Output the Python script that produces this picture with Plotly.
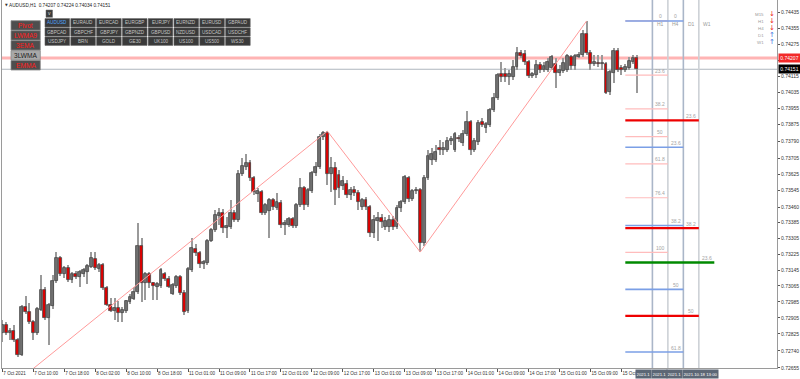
import plotly.graph_objects as go

# ---------------- data (AUDUSD H1) ----------------
bars = list(range(165))
open_ = [0.72829,0.72869,0.72829,0.72839,0.72794,0.72719,0.72959,0.72934,0.72884,0.72829,
0.72944,0.73045,0.72904,0.72964,0.73090,0.73205,0.73125,0.73155,0.73095,0.73125,
0.73110,0.73125,0.73135,0.73160,0.73200,0.73150,0.73170,0.73055,0.72969,0.72939,
0.72954,0.72929,0.72939,0.72984,0.72999,0.73034,0.73265,0.73080,0.73125,0.73080,
0.73060,0.73065,0.73125,0.73100,0.73024,0.73065,0.73110,0.73029,0.72939,0.73145,
0.73250,0.73230,0.73175,0.73180,0.73290,0.73345,0.73415,0.73430,0.73355,0.73360,
0.73430,0.73395,0.73626,0.73661,0.73681,0.73606,0.73526,0.73536,0.73430,0.73440,
0.73496,0.73456,0.73481,0.73370,0.73370,0.73400,0.73365,0.73471,0.73556,0.73471,
0.73541,0.73631,0.73661,0.73811,0.73831,0.73626,0.73656,0.73621,0.73566,0.73576,
0.73521,0.73546,0.73531,0.73461,0.73496,0.73461,0.73330,0.73390,0.73405,0.73360,
0.73360,0.73395,0.73360,0.73456,0.73486,0.73606,0.73501,0.73541,0.73546,0.73280,
0.73606,0.73696,0.73696,0.73756,0.73746,0.73746,0.73791,0.73746,0.73806,0.73781,
0.73826,0.73887,0.73746,0.73786,0.73887,0.73856,0.73871,0.73947,0.74007,0.74127,
0.74127,0.74112,0.74112,0.74162,0.74232,0.74227,0.74187,0.74117,0.74122,0.74172,
0.74147,0.74147,0.74157,0.74177,0.74132,0.74142,0.74147,0.74212,0.74167,0.74212,
0.74222,0.74328,0.74232,0.74177,0.74182,0.74177,0.74177,0.74037,0.74132,0.74242,
0.74157,0.74147,0.74157,0.74187,0.74207]
high = [0.72894,0.72884,0.72854,0.72869,0.72804,0.72969,0.73014,0.72979,0.72894,0.72959,
0.73120,0.73060,0.72979,0.73120,0.73235,0.73215,0.73165,0.73170,0.73135,0.73140,
0.73145,0.73155,0.73175,0.73235,0.73235,0.73180,0.73180,0.73065,0.73004,0.73004,
0.72989,0.72959,0.72994,0.73024,0.73060,0.73380,0.73305,0.73135,0.73135,0.73085,
0.73085,0.73155,0.73135,0.73115,0.73080,0.73120,0.73120,0.73045,0.73160,0.73305,
0.73275,0.73240,0.73195,0.73300,0.73355,0.73445,0.73456,0.73450,0.73410,0.73496,
0.73445,0.73646,0.73706,0.73726,0.73696,0.73616,0.73556,0.73546,0.73481,0.73506,
0.73506,0.73531,0.73496,0.73395,0.73410,0.73410,0.73481,0.73606,0.73566,0.73556,
0.73641,0.73686,0.73826,0.73841,0.73841,0.73711,0.73686,0.73646,0.73616,0.73596,
0.73561,0.73566,0.73546,0.73506,0.73511,0.73471,0.73420,0.73435,0.73425,0.73410,
0.73420,0.73415,0.73471,0.73496,0.73621,0.73616,0.73551,0.73561,0.73556,0.73621,
0.73746,0.73756,0.73771,0.73796,0.73786,0.73811,0.73816,0.73836,0.73821,0.73846,
0.73942,0.73897,0.73806,0.73897,0.73907,0.73887,0.73957,0.74032,0.74132,0.74187,
0.74157,0.74147,0.74197,0.74262,0.74247,0.74247,0.74197,0.74137,0.74197,0.74187,
0.74187,0.74207,0.74222,0.74207,0.74172,0.74207,0.74227,0.74222,0.74227,0.74237,
0.74348,0.74393,0.74247,0.74222,0.74222,0.74222,0.74187,0.74147,0.74257,0.74257,
0.74172,0.74177,0.74212,0.74222,0.74224]
low = [0.72784,0.72819,0.72794,0.72784,0.72709,0.72714,0.72924,0.72874,0.72794,0.72819,
0.72939,0.72894,0.72769,0.72949,0.73080,0.73115,0.73105,0.73085,0.73080,0.73100,
0.73060,0.73110,0.73075,0.73155,0.73145,0.73135,0.73045,0.72964,0.72934,0.72894,
0.72884,0.72884,0.72929,0.72974,0.72994,0.73024,0.72984,0.72994,0.73055,0.72994,
0.72994,0.73055,0.73090,0.73055,0.73019,0.73055,0.73019,0.72919,0.72929,0.73135,
0.73215,0.73155,0.73150,0.73170,0.73285,0.73335,0.73370,0.73330,0.73305,0.73350,
0.73385,0.73385,0.73616,0.73646,0.73591,0.73521,0.73486,0.73420,0.73420,0.73305,
0.73445,0.73445,0.73355,0.73320,0.73360,0.73355,0.73355,0.73461,0.73445,0.73461,
0.73531,0.73616,0.73651,0.73796,0.73571,0.73536,0.73471,0.73506,0.73546,0.73506,
0.73496,0.73516,0.73445,0.73445,0.73445,0.73310,0.73305,0.73290,0.73355,0.73345,
0.73335,0.73345,0.73350,0.73435,0.73476,0.73486,0.73491,0.73526,0.73235,0.73265,
0.73596,0.73671,0.73686,0.73721,0.73721,0.73736,0.73771,0.73736,0.73786,0.73766,
0.73816,0.73721,0.73736,0.73771,0.73861,0.73831,0.73861,0.73937,0.73997,0.74087,
0.74087,0.74072,0.74097,0.74147,0.74207,0.74172,0.74107,0.74107,0.74107,0.74132,
0.74137,0.74137,0.74147,0.74057,0.74117,0.74132,0.74137,0.74147,0.74147,0.74207,
0.74212,0.74222,0.74147,0.74167,0.74162,0.74147,0.74027,0.74022,0.74082,0.74137,
0.74122,0.74137,0.74147,0.74177,0.74034]
close = [0.72869,0.72829,0.72839,0.72794,0.72719,0.72959,0.72934,0.72884,0.72829,0.72949,
0.73045,0.72904,0.72969,0.73090,0.73205,0.73125,0.73155,0.73095,0.73125,0.73110,
0.73135,0.73145,0.73165,0.73205,0.73155,0.73170,0.73055,0.72969,0.72939,0.72954,
0.72929,0.72944,0.72989,0.73009,0.73034,0.73265,0.73080,0.73125,0.73080,0.73065,
0.73075,0.73145,0.73100,0.73060,0.73070,0.73110,0.73029,0.72934,0.73150,0.73255,
0.73230,0.73175,0.73185,0.73290,0.73345,0.73420,0.73430,0.73355,0.73365,0.73430,
0.73395,0.73626,0.73666,0.73681,0.73606,0.73536,0.73541,0.73430,0.73471,0.73496,
0.73461,0.73486,0.73370,0.73380,0.73400,0.73365,0.73471,0.73556,0.73471,0.73546,
0.73631,0.73661,0.73811,0.73831,0.73626,0.73656,0.73546,0.73556,0.73591,0.73521,
0.73546,0.73531,0.73486,0.73496,0.73461,0.73330,0.73395,0.73405,0.73385,0.73390,
0.73395,0.73360,0.73456,0.73486,0.73611,0.73501,0.73541,0.73546,0.73280,0.73606,
0.73716,0.73726,0.73736,0.73746,0.73756,0.73791,0.73801,0.73826,0.73801,0.73826,
0.73887,0.73746,0.73791,0.73882,0.73871,0.73877,0.73947,0.74007,0.74122,0.74112,
0.74112,0.74127,0.74162,0.74232,0.74217,0.74187,0.74117,0.74127,0.74172,0.74147,
0.74167,0.74187,0.74212,0.74132,0.74147,0.74182,0.74217,0.74167,0.74217,0.74222,
0.74328,0.74232,0.74177,0.74187,0.74177,0.74182,0.74032,0.74137,0.74242,0.74147,
0.74147,0.74162,0.74192,0.74207,0.74151]

tick_bars = list(range(0, 161, 8))
tick_labels = ["7 Oct 2021", "7 Oct 10:00", "7 Oct 18:00", "8 Oct 02:00", "8 Oct 10:00",
               "8 Oct 18:00", "11 Oct 01:00", "11 Oct 09:00", "11 Oct 17:00", "12 Oct 01:00",
               "12 Oct 09:00", "12 Oct 17:00", "13 Oct 01:00", "13 Oct 09:00", "13 Oct 17:00",
               "14 Oct 01:00", "14 Oct 09:00", "14 Oct 17:00", "15 Oct 01:00", "15 Oct 09:00",
               "15 Oct 17:00"]
price_ticks = [0.74435, 0.74355, 0.74275, 0.74195, 0.74115, 0.74035, 0.73955, 0.73875,
               0.73790, 0.73705, 0.73625, 0.73545, 0.73460, 0.73385, 0.73305, 0.73225,
               0.73145, 0.73065, 0.72985, 0.72905, 0.72825, 0.72740, 0.72655]
price_tick_text = ["%.5f" % v for v in price_ticks]

zigzag_bars = [-12, 84, 108, 151]
zigzag_prices = [0.72338, 0.73841, 0.73235, 0.74393]

ask_price = 0.74207
bid_price = 0.74151

fib_start = 161
fib_groups = [  # (end bar, label column bar, color, width, levels, labels)
    (172, 170, "#ffbcbc", 1.2, [0.74393, 0.74122, 0.73952, 0.73813, 0.73677, 0.73507, 0.73233],
     ["0", "23.6", "38.2", "50", "61.8", "76.4", "100"]),
    (176, 174, "#7b9fe6", 1.6, [0.74393, 0.73760, 0.73368, 0.73048, 0.72734],
     ["0", "23.6", "38.2", "50", "61.8"]),
    (180, 178, "#ee0000", 2.4, [0.73895, 0.73355, 0.72915], ["23.6", "38.2", "50"]),
    (184, 182, "#008a00", 2.4, [0.73183], ["23.6"]),
]
tf_lines = [168, 172, 176, 180]
tf_line_colors = ["#aab6c8", "#cdd1d6", "#aab6c8", "#cdd1d6"]
tf_names = ["H1", "H4", "D1", "W1"]
tf_name_bars = [170, 174, 178, 182]
tf_line_time_labels = ["2021.1", "2021.1", "2021.1", "2021.10.18 13:00"]

symbol_rows = [["AUDUSD", "EURAUD", "EURCAD", "EURGBP", "EURJPY", "EURNZD", "EURUSD", "GBPAUD"],
               ["GBPCAD", "GBPCHF", "GBPJPY", "GBPNZD", "GBPUSD", "NZDUSD", "USDCAD", "USDCHF"],
               ["USDJPY", "BRN", "GOLD", "GE30", "UK100", "US100", "US500", "WS30"]]
left_buttons = ["Pivot", "LWMA9", "3EMA", "3LWMA", "EMMA"]
trend_tfs = ["M15", "H1", "H4", "D1", "W1"]
trend_up = [False, False, False, True, True]

# ---------------- figure ----------------
FONT = "Liberation Sans, Arial, sans-serif"
X0, XW, YH = 2.0, 775.0, 368.0
PX_PER_BAR = XW / (200.2 + 0.08)
def PX(x):
    return (x - X0) / XW
def PY(y):
    return (YH - y) / YH

def ann(**kw):
    d = dict(showarrow=False, xanchor="center", yanchor="middle")
    d.update(kw)
    return d

fig = go.Figure()

# wicks
fig.add_trace(go.Bar(x=bars, y=[h - l for h, l in zip(high, low)], base=low, width=0.27,
                     marker=dict(color="#9a9a9a", line=dict(width=0)), hoverinfo="skip",
                     showlegend=False))
# bodies
bull = [c > o for o, c in zip(open_, close)]
fig.add_trace(go.Bar(x=bars, y=[abs(c - o) for o, c in zip(open_, close)],
                     base=[min(o, c) for o, c in zip(open_, close)], width=0.74,
                     marker=dict(color=["#707070" if b else "#dd0000" for b in bull],
                                 line=dict(color="#484848", width=0.8)),
                     hoverinfo="skip", showlegend=False))
# zigzag
fig.add_trace(go.Scatter(x=zigzag_bars, y=zigzag_prices, mode="lines",
                         line=dict(color="#ff9a9a", width=1), hoverinfo="skip", showlegend=False))

shapes = []
annotations = []

# ask / bid lines
shapes.append(dict(type="line", xref="paper", yref="y", x0=0, x1=1, y0=ask_price, y1=ask_price,
                   line=dict(color="#ffb4b4", width=3), layer="below"))
shapes.append(dict(type="line", xref="paper", yref="y", x0=0, x1=1, y0=bid_price, y1=bid_price,
                   line=dict(color="#aeb6bf", width=1), layer="below"))

# timeframe vertical lines
for b, col in zip(tf_lines, tf_line_colors):
    shapes.append(dict(type="line", xref="x", yref="paper", x0=b, x1=b, y0=0, y1=1,
                       line=dict(color=col, width=1.6), layer="below"))
for name, b in zip(tf_names, tf_name_bars):
    annotations.append(ann(x=b, y=PY(24), xref="x", yref="paper", text=name,
                           font=dict(family=FONT, size=5, color="#9a9a9a")))

# fibonacci levels
for end, lab_bar, col, w, levels, labels in fib_groups:
    for lv, lb in zip(levels, labels):
        shapes.append(dict(type="line", xref="x", yref="y", x0=fib_start, x1=end, y0=lv, y1=lv,
                           line=dict(color=col, width=w), layer="above"))
        annotations.append(ann(x=lab_bar, y=lv, xref="x", yref="y", text=lb, yshift=4.5,
                               font=dict(family=FONT, size=5, color="#a4a4a4")))

# price boxes on the right
for price, bg in ((ask_price, "#f22a2a"), (bid_price, "#000000")):
    annotations.append(ann(x=PX(778), y=price, xref="paper", yref="y", xanchor="left",
                           text="%.5f" % price, bgcolor=bg, borderpad=1,
                           width=19, height=6, font=dict(family=FONT, size=5, color="white")))

# time boxes under vertical lines (each partially covered by the next)
for k, (b, txt) in enumerate(zip(tf_lines, tf_line_time_labels)):
    if k < len(tf_lines) - 1:
        w = (tf_lines[k + 1] - b) * PX_PER_BAR - 1
    else:
        w = 34
    annotations.append(ann(x=b, y=PY(373.7), xref="x", yref="paper", xanchor="left", xshift=-17,
                           text=txt, bgcolor="#5c6775", width=w, height=7, borderpad=0.5,
                           align="left" if k < len(tf_lines) - 1 else "center",
                           font=dict(family=FONT, size=4.3, color="white")))

# header
annotations.append(ann(x=PX(2.5), y=PY(5), xref="paper", yref="paper", xanchor="left",
                       text="▼", font=dict(family="DejaVu Sans", size=3.5, color="#333")))
annotations.append(ann(x=PX(7), y=PY(5), xref="paper", yref="paper", xanchor="left",
                       text="AUDUSD,H1  %.5f %.5f %.5f %.5f" % (open_[-1], high[-1], low[-1], close[-1]),
                       font=dict(family=FONT, size=4.7, color="#222")))

# "v" box
shapes.append(dict(type="rect", xref="paper", yref="paper", x0=PX(46), x1=PX(52.5), y0=PY(17.3), y1=PY(10),
                   fillcolor="#3c3c3c", line=dict(color="#666", width=0.5), layer="above"))
annotations.append(ann(x=PX(49.2), y=PY(13.4), xref="paper", yref="paper", text="v",
                       font=dict(family=FONT, size=5, color="#dddddd")))

# symbol grid
for r, row in enumerate(symbol_rows):
    for c, sym in enumerate(row):
        x0 = 45 + 25.8 * c
        y0 = 18.6 + 9.2 * r
        shapes.append(dict(type="rect", xref="paper", yref="paper", x0=PX(x0), x1=PX(x0 + 24.6),
                           y0=PY(y0 + 8.4), y1=PY(y0), fillcolor="#3a3a3a",
                           line=dict(color="#5e5e5e", width=0.6), layer="above"))
        annotations.append(ann(x=PX(x0 + 12.3), y=PY(y0 + 4.2), xref="paper", yref="paper", text=sym,
                               font=dict(family=FONT, size=4.6,
                                         color="#4fa6ff" if sym == "AUDUSD" else "#c4c4c4")))

# left indicator buttons
for k, name in enumerate(left_buttons):
    y0 = 20.7 + 9.95 * k
    light = name == "3LWMA"
    shapes.append(dict(type="rect", xref="paper", yref="paper", x0=PX(11), x1=PX(40.3),
                       y0=PY(y0 + 9.5), y1=PY(y0), fillcolor="#a8a8a8" if light else "#4e4e4e",
                       line=dict(color="#8c8c8c", width=0.8), layer="above"))
    annotations.append(ann(x=PX(25.6), y=PY(y0 + 4.8), xref="paper", yref="paper", text=name,
                           font=dict(family=FONT, size=6.6, color="#1c1c1c" if light else "#ff1c1c")))

# trend arrows top-right
for k, (tf, up) in enumerate(zip(trend_tfs, trend_up)):
    yy = 14.3 + 7.0 * k
    annotations.append(ann(x=PX(766), y=PY(yy), xref="paper", yref="paper", xanchor="right", text=tf,
                           font=dict(family=FONT, size=4.4, color="#9a9a9a")))
    annotations.append(ann(x=PX(771.5), y=PY(yy), xref="paper", yref="paper", text="↑" if up else "↓",
                           font=dict(family="DejaVu Sans", size=7, color="#3b6fe0" if up else "#ee1c1c")))

fig.update_layout(
    width=800, height=379, autosize=False,
    margin=dict(l=2, r=23, t=0, b=11, pad=0),
    paper_bgcolor="white", plot_bgcolor="white",
    barmode="overlay", bargap=0, showlegend=False,
    shapes=shapes, annotations=annotations,
    font=dict(family=FONT, size=5, color="#333"),
    xaxis=dict(range=[-0.08, 200.2], tickmode="array", tickvals=tick_bars, ticktext=tick_labels,
               ticks="outside", ticklen=3, tickcolor="#555", tickwidth=1, tickangle=0,
               ticklabelposition="outside right",
               tickfont=dict(family=FONT, size=4.6, color="#333"),
               showline=True, linecolor="#9a9a9a", linewidth=1, showgrid=False, zeroline=False,
               fixedrange=True),
    yaxis=dict(range=[0.72654, 0.74498], side="right", tickmode="array", tickvals=price_ticks,
               ticktext=price_tick_text, ticks="outside", ticklen=2, tickcolor="#555",
               tickfont=dict(family=FONT, size=5, color="#333"),
               showline=True, linecolor="#9a9a9a", linewidth=1, mirror=True,
               showgrid=False, zeroline=False, fixedrange=True),
)

fig.write_html("out.html", config={"displayModeBar": False})
